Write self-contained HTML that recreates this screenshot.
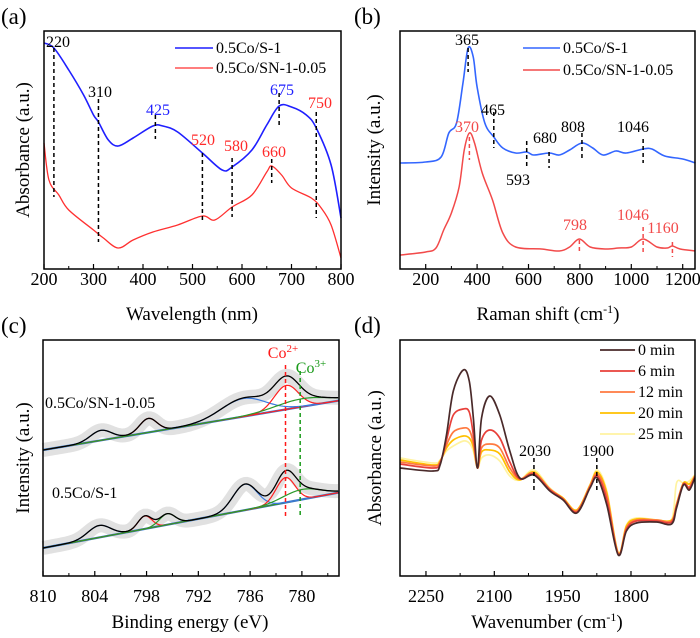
<!DOCTYPE html>
<html><head><meta charset="utf-8"><style>
html,body{margin:0;padding:0;background:#fff;}
svg{display:block;font-family:"Liberation Serif",serif;}
</style></head><body>
<svg id="fig" width="700" height="638" viewBox="0 0 700 638">
<g id="pa"></g>
<g id="pb"></g>
<g id="pc"></g>
<g id="pd"></g>
<g font-size="23">
<text x="1" y="24">(a)</text>
<text x="354" y="24">(b)</text>
<text x="1" y="333">(c)</text>
<text x="354" y="333">(d)</text>
</g>
<g font-size="19" text-anchor="middle">
<text x="192" y="320">Wavelength (nm)</text>
<text x="548" y="320">Raman shift (cm<tspan dy="-7" font-size="12">-1</tspan><tspan dy="7">)</tspan></text>
<text x="190" y="628">Binding energy (eV)</text>
<text x="547" y="628">Wavenumber (cm<tspan dy="-7" font-size="12">-1</tspan><tspan dy="7">)</tspan></text>
<text transform="translate(29,150) rotate(-90)">Absorbance (a.u.)</text>
<text transform="translate(380,150) rotate(-90)">Intensity (a.u.)</text>
<text transform="translate(29,458) rotate(-90)">Intensity (a.u.)</text>
<text transform="translate(381,458) rotate(-90)">Absorbance (a.u.)</text>
</g>
<g font-size="16" text-anchor="middle">
<text x="58" y="47">220</text>
<text x="100" y="97">310</text>
<text x="158" y="115" fill="#1f1fff">425</text>
<text x="203" y="145" fill="#ff2a2a">520</text>
<text x="236" y="151" fill="#ff2a2a">580</text>
<text x="274" y="157" fill="#ff2a2a">660</text>
<text x="282" y="95" fill="#1f1fff">675</text>
<text x="320" y="108" fill="#ff2a2a">750</text>
<text x="467" y="45">365</text>
<text x="493" y="115">465</text>
<text x="518" y="185">593</text>
<text x="545" y="143">680</text>
<text x="573" y="132">808</text>
<text x="633" y="132">1046</text>
<text x="467" y="132" fill="#f24a4a">370</text>
<text x="575" y="230" fill="#f24a4a">798</text>
<text x="633" y="220" fill="#f24a4a">1046</text>
<text x="663" y="233" fill="#f24a4a">1160</text>
<text x="283" y="358" fill="#ff1a1a">Co<tspan dy="-6" font-size="11">2+</tspan></text>
<text x="311" y="373" fill="#1a9a1a">Co<tspan dy="-6" font-size="11">3+</tspan></text>
<text x="535" y="456">2030</text>
<text x="598" y="456">1900</text>
</g>
<g font-size="16">
<text x="45" y="408">0.5Co/SN-1-0.05</text>
<text x="52" y="498">0.5Co/S-1</text>
</g>
</svg>
<script>
// ---------- data: panel a (UV-vis) ----------
const aBlueX=[200,220,250,280,300,310,330,350,380,420,440,470,520,560,580,620,650,675,700,730,750,780,800];
const aBlueY=[226,221,199,174,154,147,129,123,131,143,143,137,116,99,102,119,144,163,162,154,141,104,51];
const aRedX=[200,210,230,250,300,320,350,380,420,470,520,545,580,620,650,660,680,700,740,760,780,800];
const aRedY=[126,89,74,59,39,31,21,29,37,44,53,49,62,74,97,103,94,81,71,61,44,11];
const aTicks=[200,300,400,500,600,700,800];
const aMinor=[250,350,450,550,650,750];
const aDashX=[220,310,425,520,580,660,675,750];
const aDashTop=[221,170,154,116,111,110,176,157];
const aDashBot=[72,27,130,46,52,86,144,51];
// ---------- data: panel b (Raman) ----------
const bBlueX=[100,200,260,290,320,345,365,385,400,430,465,500,550,593,620,680,720,760,808,850,890,940,980,1046,1080,1130,1200,1250];
const bBlueY=[106,107,112,136,146,186,221,212,182,146,132,121,116,117,114,116,114,119,126,121,114,118,116,120,120,113,110,106];
const bRedX=[100,200,240,270,300,330,350,370,390,420,460,500,550,650,720,760,798,840,900,950,1000,1046,1100,1140,1160,1190,1250];
const bRedY=[14,17,21,39,56,82,119,136,126,96,69,36,22,20,18,22,30,22,20,21,22,30,22,21,23,20,18];
const bTicks=[200,400,600,800,1000,1200];
const bMinor=[100,300,500,700,900,1100];
const bDashX=[365,465,593,680,808,1046,370,798,1046,1160];
const bDashTop=[221,157,128,117,136,130,132,29,42,27];
const bDashBot=[197,121,102,101,111,106,109,16,17,12];
// ---------- data: panel c (XPS) ----------
const cBaseSN=[126,175];
const cCenSN=[803.3,797.8,786.8,781.8,780.0];
const cHgtSN=[10,14,18,24,8];
const cWidSN=[1.2,1.0,2.6,1.4,3.0];
const cColSN=['#3a7ae0','#ff2020','#3a7ae0','#ff2020','#2a9a2a'];
const cBaseS=[28,83];
const cCenS=[803.5,798.2,795.6,786.6,781.9,780.0];
const cHgtS=[12,13,11,26,25,10];
const cWidS=[1.3,0.8,0.9,1.4,1.1,2.2];
const cColS=['#3a7ae0','#ff2020','#2a9a2a','#3a7ae0','#ff2020','#2a9a2a'];
const cTicks=[810,804,798,792,786,780];
const cMinor=[807,801,795,789,783,777];
// ---------- data: panel d (IR) ----------
const dX=[2307,2234,2219,2205,2190,2168,2155,2146,2137,2128,2110,2088,2066,2044,2013,1978,1949,1919,1890,1874,1853,1828,1810,1788,1744,1711,1700,1685,1672,1660];
const d0=[108,105,111,141,185,206,195,158,108,158,180,161,125,98,101,85,76,63,88,98,71,21,45,53,54,52,68,91,86,98];
const d6=[112,108,113,136,161,167,164,141,108,136,146,138,114,97,102,86,77,64,89,100,76,22,47,55,55,54,70,92,88,99];
const d12=[114,110,114,131,144,148,146,133,108,128,132,128,108,97,103,87,77,65,90,102,80,22,48,56,56,55,71,92,89,100];
const d20=[116,111,115,128,136,140,138,129,108,124,126,122,104,96,104,87,78,66,91,104,83,23,50,57,56,56,72,93,92,100];
const d25=[118,113,116,125,130,135,133,125,108,118,121,115,100,96,106,88,78,66,91,106,85,23,51,58,56,56,93,93,95,101];
const dLabels=['0 min','6 min','12 min','20 min','25 min'];
const dColors=['#4a2a2a','#e8403a','#ff7a40','#ffc000','#fff3a0'];
const dTicks=[2250,2100,1950,1800];
const dMinor=[2175,2025,1875,1725];
const dDashX=[2013,1875];

// ---------- scales ----------
const xa=v=>44+(v-200)/600*297, ya=v=>269-v;
const xb=v=>400+(v-100)*0.257, yb=v=>269-v;
const xc=v=>43+(810-v)*8.63, yc=v=>576-v;
const xd=v=>400+(2307-v)*0.4556, yd=v=>576-v;

const NS='http://www.w3.org/2000/svg';
function mk(tag,attrs,parent,txt){const e=document.createElementNS(NS,tag);for(const k in attrs)e.setAttribute(k,attrs[k]);if(txt!==undefined)e.textContent=txt;parent.appendChild(e);return e;}
function smooth(p){let d='M'+p[0][0].toFixed(2)+','+p[0][1].toFixed(2);for(let i=0;i<p.length-1;i++){const p0=p[i-1]||p[i],p1=p[i],p2=p[i+1],p3=p[i+2]||p2;const c1=[p1[0]+(p2[0]-p0[0])/6,p1[1]+(p2[1]-p0[1])/6],c2=[p2[0]-(p3[0]-p1[0])/6,p2[1]-(p3[1]-p1[1])/6];d+='C'+c1.map(v=>v.toFixed(2)).join(',')+' '+c2.map(v=>v.toFixed(2)).join(',')+' '+p2[0].toFixed(2)+','+p2[1].toFixed(2);}return d;}
function line(g,xs,ys,sx,sy,col,w,name){const p=mk('path',{d:smooth(xs.map((x,i)=>[sx(x),sy(ys[i])])),fill:'none',stroke:col,'stroke-width':w,'stroke-linejoin':'round'},g);


return p;}
function frame(g,x0,y0,x1,y1,ticks,minor,sx,name){
const r=mk('rect',{x:x0,y:y0,width:x1-x0,height:y1-y0,fill:'none',stroke:'#000','stroke-width':1.5},g);


ticks.forEach(t=>{const x=sx(t);const l=mk('line',{x1:x,x2:x,y1:y1,y2:y1-5,stroke:'#000','stroke-width':1.2},g);


const tx=mk('text',{x:x,y:name.match(/-(a|b)$/)?285:602,'font-size':18,'text-anchor':'middle'},g,String(t));

});
minor.forEach(t=>{const x=sx(t);const l=mk('line',{x1:x,x2:x,y1:y1,y2:y1-3,stroke:'#000','stroke-width':1},g);

});
}
function dash(g,x,y1,y2,col,name){const l=mk('line',{x1:x,x2:x,y1:y1,y2:y2,stroke:col,'stroke-width':1.5,'stroke-dasharray':'4,3'},g);

}
function legend(g,x1,x2,y,col,label,w,name){const l=mk('line',{x1:x1,x2:x2,y1:y,y2:y,stroke:col,'stroke-width':w},g);


const t=mk('text',{x:x2+3,y:y+5,'font-size':16},g,label);

}

// panel a
const ga=document.getElementById('pa');
line(ga,aBlueX,aBlueY,xa,ya,'#1f1fff',1.6,'curve-0.5co-s-1');
line(ga,aRedX,aRedY,xa,ya,'#ff3030',1.3,'curve-0.5co-sn-1-0.05');
aDashX.forEach((x,i)=>dash(ga,xa(x),ya(aDashTop[i]),ya(aDashBot[i]),'#000','dash-a-'+x));
frame(ga,44,31,341,269,aTicks,aMinor,xa,'axis-a');
legend(ga,175,213,48,'#1f1fff','0.5Co/S-1',1.6,'legend-a-s');
legend(ga,175,213,68,'#ff3030','0.5Co/SN-1-0.05',1.3,'legend-a-sn');

// panel b
const gb=document.getElementById('pb');
line(gb,bBlueX,bBlueY,xb,yb,'#3366ff',1.6,'raman-0.5co-s-1');
line(gb,bRedX,bRedY,xb,yb,'#f24a4a',1.5,'raman-0.5co-sn-1-0.05');
bDashX.forEach((x,i)=>dash(gb,xb(x),yb(bDashTop[i]),yb(bDashBot[i]),i<6?'#000':'#f24a4a','dash-b-'+x));
frame(gb,400,31,695,269,bTicks,bMinor,xb,'axis-b');
legend(gb,523,560,48,'#3366ff','0.5Co/S-1',1.6,'legend-b-s');
legend(gb,523,560,70,'#f24a4a','0.5Co/SN-1-0.05',1.5,'legend-b-sn');

// panel c
const gc=document.getElementById('pc');
function xps(base,cen,hgt,wid,col,tag){
const E=[];for(let e=810;e>=775.7;e-=0.2)E.push(e);
const bl=e=>base[0]+(810-e)/(810-776)*(base[1]-base[0]);
const comp=(k,e)=>hgt[k]*Math.exp(-Math.pow(e-cen[k],2)/(2*wid[k]*wid[k]));
const env=E.map(e=>bl(e)+cen.reduce((s,_,k)=>s+comp(k,e),0));
const band=mk('path',{d:'M'+E.map((e,i)=>xc(e)+','+yc(env[i])).join('L'),fill:'none',stroke:'#c8c8c8','stroke-width':14,'stroke-opacity':0.55},gc);


const b=mk('path',{d:'M'+xc(810)+','+yc(base[0])+'L'+xc(775.7)+','+yc(bl(775.7)),stroke:'#2a7ad8','stroke-width':2.2,fill:'none'},gc);


cen.forEach((c,k)=>{const p=mk('path',{d:'M'+E.map(e=>xc(e)+','+yc(bl(e)+comp(k,e))).join('L'),fill:'none',stroke:col[k],'stroke-width':1.2},gc);

});
const en=mk('path',{d:'M'+E.map((e,i)=>xc(e)+','+yc(env[i])).join('L'),fill:'none',stroke:'#000','stroke-width':1.3},gc);


}
xps(cBaseSN,cCenSN,cHgtSN,cWidSN,cColSN,'sn');
xps(cBaseS,cCenS,cHgtS,cWidS,cColS,'s');
dash(gc,xc(781.9),365,518,'#ff1a1a','dash-co2');
dash(gc,xc(780.2),371,518,'#1a9a1a','dash-co3');
frame(gc,43,340,339,576,cTicks,cMinor,xc,'axis-c');

// panel d
const gd=document.getElementById('pd');
[d0,d6,d12,d20,d25].slice().reverse().forEach((s,ri)=>{const i=4-ri;line(gd,dX,s,xd,yd,dColors[i],1.7,'ir-'+dLabels[i].replace(' ','-'));});
dDashX.forEach(x=>dash(gd,xd(x),458,491,'#000','dash-d-'+x));
frame(gd,400,340,695,576,dTicks,dMinor,xd,'axis-d');
dLabels.forEach((lab,i)=>legend(gd,600,635,350+i*21,dColors[i],lab,1.8,'legend-d-'+i));
</script>
</body></html>
